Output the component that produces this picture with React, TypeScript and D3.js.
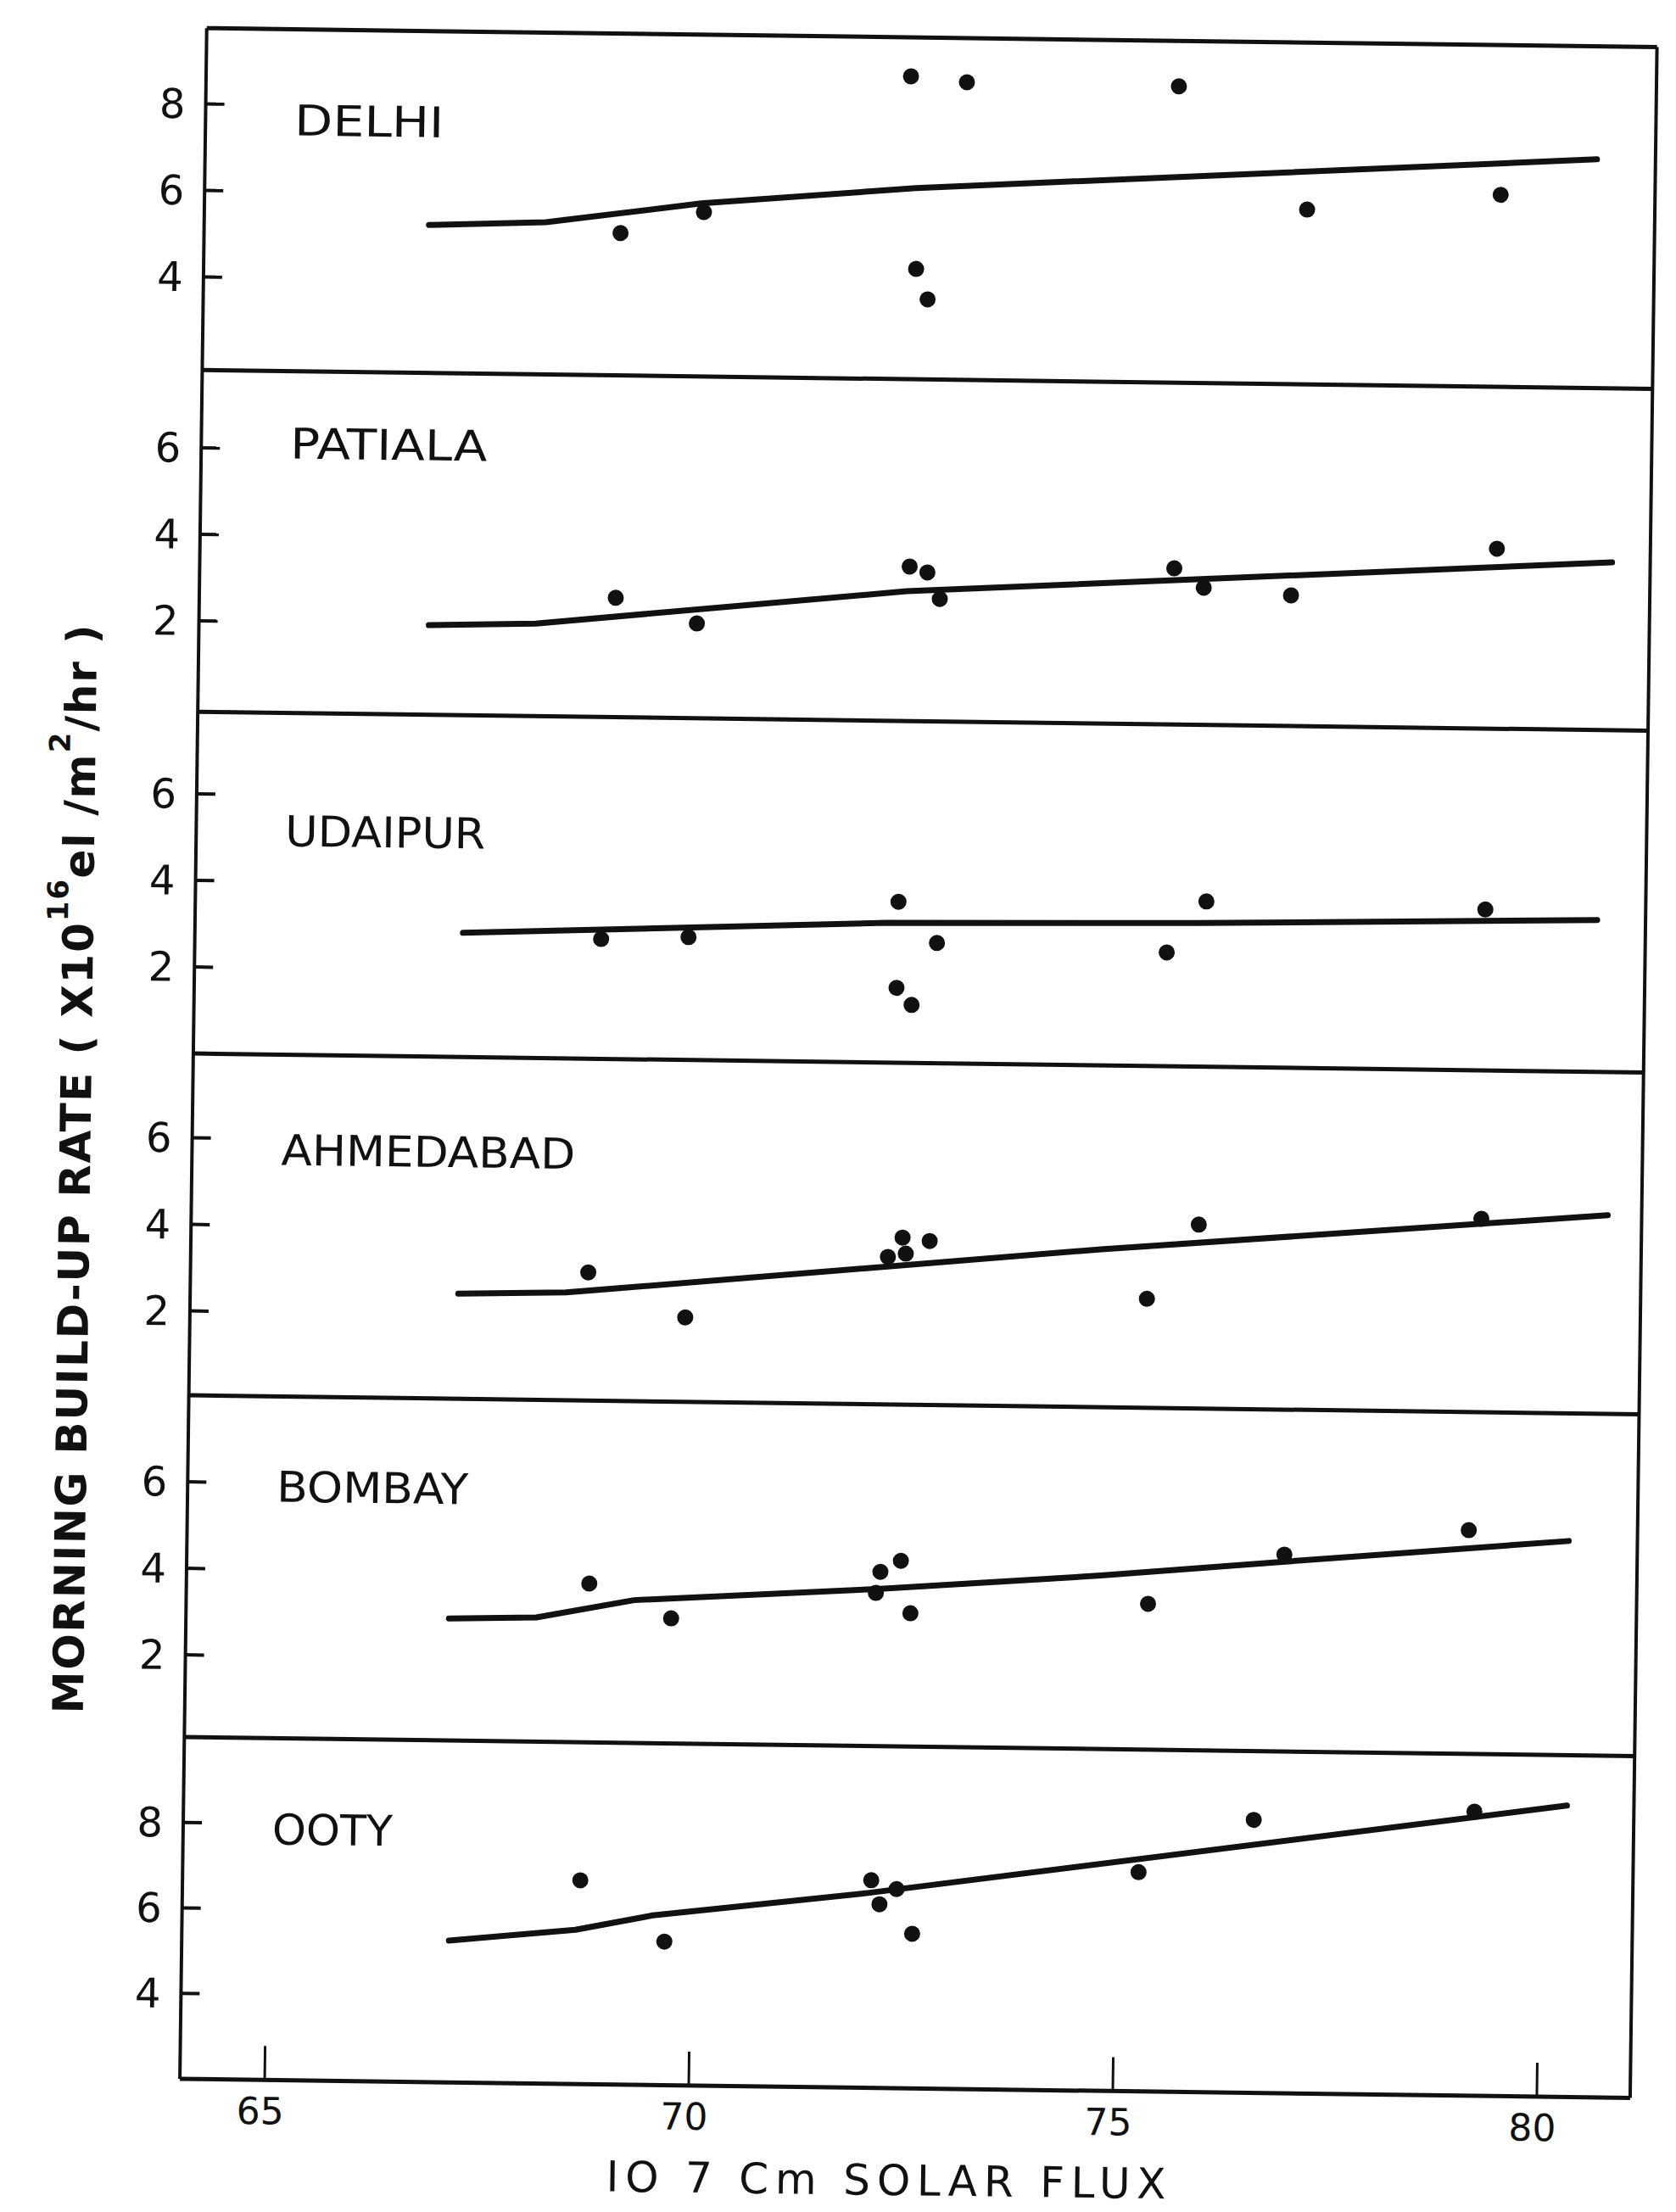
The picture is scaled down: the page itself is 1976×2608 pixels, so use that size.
import React from "react";
import * as d3 from "d3";

type Pt = [number, number]; // [10.7 cm solar flux, build-up rate]

const stations = ["DELHI", "PATIALA", "UDAIPUR", "AHMEDABAD", "BOMBAY", "OOTY"];
const yDomains: Pt[] = [
  [1.85, 9.75],
  [-0.1, 7.8],
  [0, 7.9],
  [0.05, 7.95],
  [0.1, 8.0],
  [2, 10],
];
const yTicks = [
  [4, 6, 8],
  [2, 4, 6],
  [2, 4, 6],
  [2, 4, 6],
  [2, 4, 6],
  [4, 6, 8],
];
const xTicks = [65, 70, 75, 80];

const delhiPoints: Pt[] = [
  [72.31, 8.85], [72.97, 8.73], [75.47, 8.7], [68.91, 5.14], [69.89, 5.65],
  [72.4, 4.4], [72.54, 3.7], [77.0, 5.89], [79.28, 6.29],
];
const patialaPoints: Pt[] = [
  [68.91, 2.66], [69.87, 2.09], [72.37, 3.47], [72.58, 3.34], [72.73, 2.73],
  [75.49, 3.51], [75.84, 3.07], [76.87, 2.92], [79.29, 4.06],
];
const udaipurPoints: Pt[] = [
  [68.79, 2.77], [69.82, 2.84], [72.29, 3.72], [72.75, 2.78], [72.28, 1.73],
  [72.46, 1.34], [75.46, 2.63], [75.92, 3.82], [79.21, 3.72],
];
const ahmedabadPoints: Pt[] = [
  [68.69, 3.01], [69.84, 2.0], [72.39, 3.91], [72.71, 3.84], [72.22, 3.46],
  [72.43, 3.54], [75.28, 2.57], [75.88, 4.3], [79.21, 4.52],
];
const bombayPoints: Pt[] = [
  [68.75, 3.77], [69.72, 2.99], [72.18, 4.13], [72.42, 4.39], [72.13, 3.64],
  [72.54, 3.18], [75.34, 3.47], [76.94, 4.65], [79.11, 5.27],
];
const ootyPoints: Pt[] = [
  [68.69, 6.77], [69.69, 5.36], [72.12, 6.86], [72.22, 6.3], [72.42, 6.66],
  [72.61, 5.62], [75.27, 7.13], [76.62, 8.39], [79.22, 8.65],
];

// hand drawn fit lines
const delhiFit: Pt[] = [[66.65, 5.27], [68.03, 5.37], [69.86, 5.85], [72.39, 6.27], [80.41, 7.14]];
const patialaFit: Pt[] = [[66.71, 1.97], [67.97, 2.04], [72.34, 2.9], [80.65, 3.78]];
const udaipurFit: Pt[] = [[67.16, 2.87], [72.15, 3.23], [75.83, 3.32], [80.53, 3.51]];
const ahmedabadFit: Pt[] = [[67.16, 2.48], [68.43, 2.54], [74.73, 3.7], [80.7, 4.64]];
const bombayFit: Pt[] = [[67.1, 2.92], [68.13, 2.97], [69.28, 3.4], [72.14, 3.73], [74.78, 4.11], [76.85, 4.47], [80.29, 5.05]];
const ootyFit: Pt[] = [[67.15, 5.32], [68.64, 5.61], [69.55, 5.97], [72.08, 6.56], [80.31, 8.82]];

const points = [delhiPoints, patialaPoints, udaipurPoints, ahmedabadPoints, bombayPoints, ootyPoints];
const fits = [delhiFit, patialaFit, udaipurFit, ahmedabadFit, bombayFit, ootyFit];

const W = 1976;
const H = 2608;
const LEFT = 228;
const RIGHT = 1938;
const TOP = 44;
const PANEL_H = 403;
const TILT = 0.75; // the scanned page sits slightly rotated
const INK = "#111";
const FONT = "'DejaVu Sans', 'Liberation Sans', sans-serif";
const labelOffset = [108, 86, 140, 113, 107, 108];
const labelWidth = [176, 232, 236, 347, 226, 142];

export default function App() {
  const x = d3.scaleLinear().domain([64, 81.1]).range([LEFT, RIGHT]);
  const bottom = TOP + stations.length * PANEL_H;

  const panels = stations.map((name, i) => {
    const y0 = TOP + i * PANEL_H;
    const y = d3.scaleLinear().domain(yDomains[i]).range([y0 + PANEL_H, y0]);
    const line = d3
      .line<Pt>()
      .x((d) => x(d[0]))
      .y((d) => y(d[1]));

    return (
      <g key={name}>
        {yTicks[i].map((t) => (
          <g key={t}>
            <line x1={LEFT} x2={LEFT + 22} y1={y(t)} y2={y(t)} stroke={INK} strokeWidth={4} />
            <text
              x={LEFT - 24}
              y={y(t)}
              textAnchor="end"
              dominantBaseline="central"
              fontSize={48}
              fontFamily={FONT}
              fill={INK}
            >
              {t}
            </text>
          </g>
        ))}
        <text
          x={333}
          y={y0 + labelOffset[i]}
          dominantBaseline="central"
          fontSize={50}
          fontFamily={FONT}
          fill={INK}
          textLength={labelWidth[i]}
          lengthAdjust="spacingAndGlyphs"
        >
          {name}
        </text>
        <path
          d={line(fits[i]) ?? ""}
          fill="none"
          stroke={INK}
          strokeWidth={7}
          strokeLinecap="round"
          strokeLinejoin="round"
        />
        {points[i].map((d, j) => (
          <circle key={j} cx={x(d[0])} cy={y(d[1])} r={9.5} fill={INK} />
        ))}
      </g>
    );
  });

  return (
    <svg
      width={W}
      height={H}
      viewBox={`0 0 ${W} ${H}`}
      style={{ position: "absolute", left: 0, top: 0, background: "#fff" }}
    >
      <g transform={`rotate(${TILT}, 1060, 1240)`}>
        {/* frame and panel dividers */}
        {d3.range(stations.length + 1).map((k) => (
          <line
            key={k}
            x1={LEFT}
            x2={RIGHT}
            y1={TOP + k * PANEL_H}
            y2={TOP + k * PANEL_H}
            stroke={INK}
            strokeWidth={5}
          />
        ))}
        <line x1={LEFT} x2={LEFT} y1={TOP} y2={bottom} stroke={INK} strokeWidth={4} />
        <line x1={RIGHT} x2={RIGHT} y1={TOP} y2={bottom} stroke={INK} strokeWidth={4} />

        {panels}

        {/* x axis */}
        {xTicks.map((t) => (
          <g key={t}>
            <line x1={x(t)} x2={x(t)} y1={bottom} y2={bottom - 40} stroke={INK} strokeWidth={3} />
            <text
              x={x(t) - 5}
              y={bottom + 52}
              textAnchor="middle"
              fontSize={44}
              fontFamily={FONT}
              fill={INK}
            >
              {t}
            </text>
          </g>
        ))}
        <text
          x={1062}
          y={2588}
          textAnchor="middle"
          fontSize={50}
          fontFamily={FONT}
          fill={INK}
          textLength={660}
          lengthAdjust="spacing"
        >
          IO 7 Cm SOLAR FLUX
        </text>

        {/* y axis title */}
        <text
          transform="translate(108, 1391) rotate(-90)"
          textAnchor="middle"
          fontSize={50}
          fontWeight="bold"
          fontFamily={FONT}
          fill={INK}
          textLength={1284}
          lengthAdjust="spacing"
        >
          MORNING BUILD-UP RATE ( X10
          <tspan dy={-30} fontSize={34}>16</tspan>
          <tspan dy={30}>el /m</tspan>
          <tspan dy={-30} fontSize={34}>2</tspan>
          <tspan dy={30}>/hr )</tspan>
        </text>
      </g>
    </svg>
  );
}
